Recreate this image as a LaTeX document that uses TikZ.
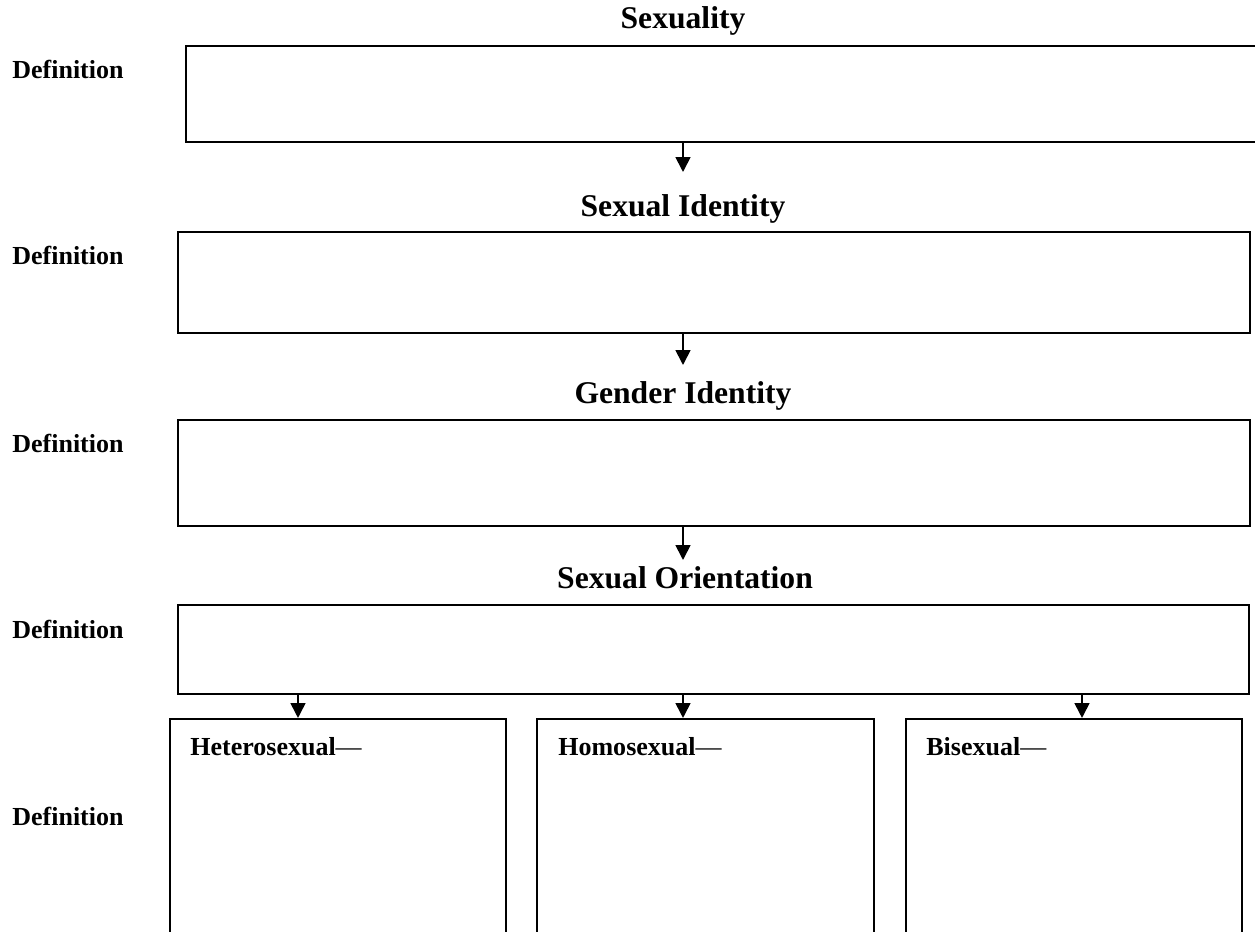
\documentclass[tikz,border=0pt]{standalone}
\usepackage{fontspec}
\setmainfont{Liberation Serif}
\usetikzlibrary{arrows.meta}
\begin{document}
\begin{tikzpicture}[x=0.02cm,y=-0.02cm,
  box/.style={draw=black,line width=1.2pt,rectangle,inner sep=0pt,fill=none},
  ttl/.style={anchor=base,inner sep=0pt,font=\bfseries\fontsize{18pt}{20pt}\selectfont},
  deflbl/.style={anchor=base west,inner sep=0pt,font=\bfseries\fontsize{14.8pt}{17pt}\selectfont},
  sub/.style={anchor=base west,inner sep=0pt,font=\bfseries\fontsize{14.8pt}{17pt}\selectfont},
  arr/.style={line width=1pt,-{Triangle[length=8.5pt,width=8.5pt]}}]
\useasboundingbox (0,0) rectangle (1255,932);
% titles
\node[ttl] (t1) at (683,29) {Sexuality};
\node[ttl] (t2) at (683,217) {Sexual Identity};
\node[ttl] (t3) at (683,404) {Gender Identity};
\node[ttl] (t4) at (685,588) {Sexual Orientation};
% boxes
\node[box,minimum width=21.52cm,minimum height=1.92cm] (b1) at (724,94) {};
\node[box,minimum width=21.44cm,minimum height=2.02cm] (b2) at (714,282.5) {};
\node[box,minimum width=21.44cm,minimum height=2.12cm] (b3) at (714,473) {};
\node[box,minimum width=21.42cm,minimum height=1.78cm] (b4) at (713.5,649.5) {};
\node[box,minimum width=6.72cm,minimum height=4.42cm] (b5) at (338,829.5) {};
\node[box,minimum width=6.74cm,minimum height=4.42cm] (b6) at (705.5,829.5) {};
\node[box,minimum width=6.72cm,minimum height=4.42cm] (b7) at (1074,829.5) {};
% definition labels
\node[deflbl] (d1) at (12,79) {Definition};
\node[deflbl] (d2) at (12,265) {Definition};
\node[deflbl] (d3) at (12,453) {Definition};
\node[deflbl] (d4) at (12,638) {Definition};
\node[deflbl] (d5) at (12,825) {Definition};
% sub labels
\node[sub] (s1) at (190,755) {Heterosexual\textmd{—}};
\node[sub] (s2) at (558,755) {Homosexual\textmd{—}};
\node[sub] (s3) at (926,755) {Bisexual\textmd{—}};
% arrow coordinates
\coordinate (c1) at (683,172);
\coordinate (c2) at (683,365);
\coordinate (c3) at (683,560);
\coordinate (xa) at (298,0);
\coordinate (xb) at (683,0);
\coordinate (xc) at (1082,0);
% arrows
\draw[arr] (b1.south -| c1) -- (c1);
\draw[arr] (b2.south -| c2) -- (c2);
\draw[arr] (b3.south -| c3) -- (c3);
\draw[arr] (b4.south -| xa) -- (b5.north -| xa);
\draw[arr] (b4.south -| xb) -- (b6.north -| xb);
\draw[arr] (b4.south -| xc) -- (b7.north -| xc);
\end{tikzpicture}
\end{document}
